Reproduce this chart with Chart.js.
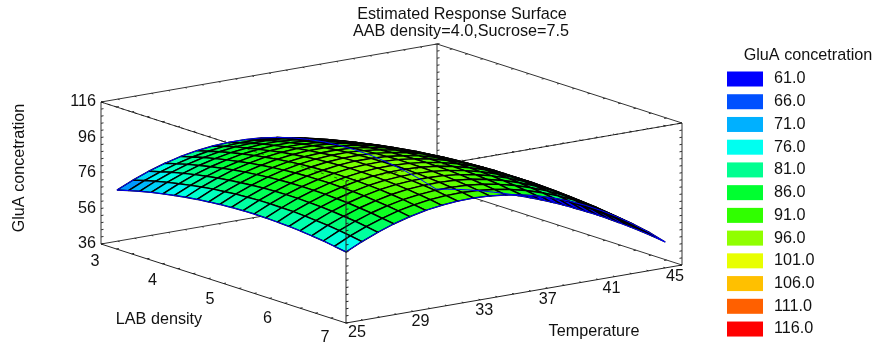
<!DOCTYPE html>
<html><head><meta charset="utf-8">
<style>html,body{margin:0;padding:0;background:#fff}canvas{display:block}</style>
<script src="https://cdn.jsdelivr.net/npm/chart.js@4"></script>
</head><body><canvas id="c" width="874" height="347"></canvas>
<script>
const labValues=[3.26,3.45,3.63,3.82,4.01,4.2,4.38,4.57,4.76,4.94,5.13,5.32,5.5,5.69,5.88,6.07,6.25,6.44,6.63,6.81,7];
const tempValues=[25,25.95,26.9,27.85,28.8,29.75,30.7,31.65,32.6,33.55,34.5,35.45,36.4,37.35,38.3,39.25,40.2,41.15,42.1,43.05,44];
const gluA=[
[69.3,73.3,76.8,79.7,82.0,83.7,84.8,85.3,85.3,84.6,83.4,81.6,79.2,76.2,72.6,68.4,63.7,58.3,52.4,45.9,38.8],
[71.1,75.2,78.6,81.5,83.8,85.5,86.7,87.2,87.1,86.5,85.3,83.5,81.1,78.1,74.6,70.4,65.7,60.3,54.4,47.9,40.8],
[72.7,76.8,80.3,83.2,85.5,87.2,88.4,88.9,88.9,88.3,87.1,85.3,82.9,79.9,76.4,72.2,67.5,62.2,56.3,49.8,42.7],
[74.2,78.3,81.8,84.7,87.0,88.8,89.9,90.5,90.5,89.9,88.7,86.9,84.5,81.6,78.0,73.9,69.2,63.9,58.0,51.5,44.5],
[75.5,79.6,83.2,86.1,88.4,90.2,91.3,91.9,91.9,91.3,90.1,88.4,86.0,83.1,79.5,75.4,70.7,65.4,59.6,53.1,46.1],
[76.7,80.8,84.4,87.3,89.6,91.4,92.6,93.2,93.2,92.6,91.4,89.7,87.3,84.4,80.9,76.8,72.1,66.8,61.0,54.5,47.5],
[77.7,81.9,85.4,88.4,90.7,92.5,93.7,94.3,94.3,93.7,92.6,90.8,88.5,85.6,82.1,78.0,73.3,68.1,62.2,55.8,48.8],
[78.6,82.8,86.3,89.3,91.6,93.4,94.6,95.2,95.3,94.7,93.6,91.9,89.5,86.6,83.1,79.1,74.4,69.2,63.3,56.9,49.9],
[79.3,83.5,87.0,90.0,92.4,94.2,95.4,96.0,96.1,95.6,94.4,92.7,90.4,87.5,84.0,80.0,75.3,70.1,64.3,57.9,50.9],
[79.9,84.1,87.6,90.6,93.0,94.8,96.1,96.7,96.8,96.2,95.1,93.4,91.1,88.2,84.8,80.7,76.1,70.9,65.1,58.7,51.7],
[80.3,84.5,88.1,91.1,93.5,95.3,96.6,97.2,97.3,96.8,95.7,94.0,91.7,88.8,85.4,81.3,76.7,71.5,65.7,59.3,52.4],
[80.6,84.8,88.4,91.4,93.8,95.6,96.9,97.6,97.6,97.1,96.0,94.4,92.1,89.2,85.8,81.8,77.2,72.0,66.2,59.8,52.9],
[80.7,84.9,88.5,91.5,93.9,95.8,97.1,97.7,97.8,97.4,96.3,94.6,92.4,89.5,86.1,82.1,77.5,72.3,66.5,60.2,53.2],
[80.6,84.8,88.5,91.5,94.0,95.8,97.1,97.8,97.9,97.4,96.4,94.7,92.5,89.6,86.2,82.2,77.6,72.5,66.7,60.4,53.4],
[80.4,84.7,88.3,91.3,93.8,95.7,97.0,97.7,97.8,97.3,96.3,94.6,92.4,89.6,86.2,82.2,77.7,72.5,66.7,60.4,53.5],
[80.1,84.3,88.0,91.0,93.5,95.4,96.7,97.4,97.5,97.1,96.1,94.4,92.2,89.4,86.0,82.1,77.5,72.3,66.6,60.3,53.4],
[79.6,83.8,87.5,90.6,93.1,95.0,96.3,97.0,97.1,96.7,95.7,94.1,91.9,89.1,85.7,81.7,77.2,72.1,66.3,60.0,53.1],
[78.9,83.2,86.8,89.9,92.4,94.4,95.7,96.4,96.6,96.2,95.2,93.5,91.4,88.6,85.2,81.3,76.7,71.6,65.9,59.6,52.7],
[78.1,82.4,86.1,89.2,91.7,93.6,94.9,95.7,95.9,95.5,94.5,92.9,90.7,87.9,84.6,80.6,76.1,71.0,65.3,59.0,52.2],
[77.1,81.4,85.1,88.2,90.8,92.7,94.1,94.8,95.0,94.6,93.6,92.0,89.9,87.1,83.8,79.9,75.4,70.3,64.6,58.3,51.5],
[76.0,80.3,84.0,87.2,89.7,91.7,93.0,93.8,94.0,93.6,92.6,91.1,88.9,86.2,82.9,79.0,74.5,69.4,63.7,57.5,50.6]
];
const labTicks=[3,4,5,6,7];
const tempTicks=[25,29,33,37,41,45];
const zTicks=[36,56,76,96,116];
const legendLevels=[61,66,71,76,81,86,91,96,101,106,111,116];
const legendColors=['#0000ff','#0050ff','#00b0ff','#00fff0','#00ff90','#00ff30','#30ff00','#90ff00','#e8ff00','#ffc000','#ff6000','#ff0000'];
const titleLines=['Estimated Response Surface','AAB density=4.0,Sucrose=7.5'];
const zTitle='GluA concetration',labTitle='LAB density',tempTitle='Temperature';

// oblique projection of the box
function project(lab,temp,z){
  const U=(lab-3)/4,V=(temp-25)/20,h=(z-36)*142/80;
  return {x:101+245*U+336*V,y:244+79*U-58*V-h};
}
const gap={x:NaN,y:NaN};
function seg(arr,a,b){arr.push(project(...a),project(...b),gap);}
const ZL=36,ZH=116;
const back=[],front=[],dash=[];
seg(back,[3,25,ZL],[3,45,ZL]);seg(back,[3,45,ZL],[7,45,ZL]);
seg(back,[3,25,ZL],[3,25,ZH]);seg(back,[3,45,ZL],[3,45,ZH]);seg(back,[7,45,ZL],[7,45,ZH]);
seg(back,[3,25,ZH],[3,45,ZH]);seg(back,[3,45,ZH],[7,45,ZH]);
seg(back,[3,25,ZH],[7,25,ZH]);seg(back,[7,25,ZH],[7,45,ZH]);
seg(front,[3,25,ZL],[7,25,ZL]);seg(front,[7,25,ZL],[7,45,ZL]);seg(front,[7,25,ZL],[7,25,ZH]);
seg(dash,[3,25,ZH],[7,25,ZH]);seg(dash,[7,25,ZH],[7,45,ZH]);
// ticks
const dT=0.15,dL=0.03;
for(let l=3;l<=7.001;l+=0.25){[[25,dT],[45,-dT]].forEach(([t,d])=>{[ZL,ZH].forEach(z=>{
  (t===25&&z===ZL?front:back).push(project(l,t,z),project(l,t+d,z),gap);});});}
for(let t=25;t<=45.001;t+=1){[[3,dL],[7,-dL]].forEach(([l,d])=>{[ZL,ZH].forEach(z=>{
  (l===7&&z===ZL?front:back).push(project(l,t,z),project(l+d,t,z),gap);});});}
for(let z=36;z<=116.001;z+=4){
  back.push(project(3,25,z),project(3,25+dT,z),gap);
  back.push(project(3,45,z),project(3,45+dT,z),gap);
  back.push(project(7,45,z),project(7,45-dT,z),gap);
  front.push(project(7,25,z),project(7,25+dT,z),gap);
}
function hex(c){return [1,3,5].map(i=>parseInt(c.substr(i,2),16));}
function colorFor(z){
  if(z<=legendLevels[0])return legendColors[0];
  for(let k=1;k<legendLevels.length;k++){
    if(z<=legendLevels[k]){
      const f=(z-legendLevels[k-1])/5,a=hex(legendColors[k-1]),b=hex(legendColors[k]);
      return 'rgb('+a.map((v,n)=>Math.round(v+(b[n]-v)*f)).join(',')+')';
    }
  }
  return legendColors[legendColors.length-1];
}
const base={showLine:true,pointRadius:0,pointHoverRadius:0,fill:false,tension:0,spanGaps:false,clip:false};
const cells=[];
for(let i=labValues.length-2;i>=0;i--){
  for(let j=0;j<tempValues.length-1;j++){
    const c=[[i,j],[i+1,j],[i+1,j+1],[i,j+1],[i,j]];
    const pts=c.map(([a,b])=>project(labValues[a],tempValues[b],gluA[a][b]));
    const mean=(gluA[i][j]+gluA[i+1][j]+gluA[i+1][j+1]+gluA[i][j+1])/4;
    cells.push({...base,data:pts,fill:'shape',backgroundColor:colorFor(mean-2.5),borderColor:'#000',borderWidth:1.4,
      _d:labValues[i]/4-tempValues[j]/20});
  }
}
cells.sort((a,b)=>b._d-a._d);
const n=labValues.length-1,m=tempValues.length-1;
const outline=[];
tempValues.forEach((t,j)=>outline.push(project(labValues[0],t,gluA[0][j])));
labValues.forEach((l,i)=>outline.push(project(l,tempValues[m],gluA[i][m])));
for(let j=m;j>=0;j--)outline.push(project(labValues[n],tempValues[j],gluA[n][j]));
for(let i=n;i>=0;i--)outline.push(project(labValues[i],tempValues[0],gluA[i][0]));

const datasets=[
  {...base,label:'front edges',data:front,borderColor:'#222',borderWidth:1},
  {...base,label:'surface outline',data:outline,borderColor:'#0000ff',borderWidth:1},
  {...base,label:'edge dots',data:dash,borderColor:'rgba(0,0,0,0.6)',borderWidth:1,borderDash:[3,4]},
  ...cells,
  {...base,label:'box',data:back,borderColor:'#333',borderWidth:1}
];
const FONT='"Liberation Sans",Arial,sans-serif';
const textPlugin={id:'texts',afterDraw(chart){
  const c=chart.ctx;c.save();c.fillStyle='#111';c.textBaseline='middle';
  c.font='16.2px '+FONT;
  c.textAlign='center';
  c.fillText(titleLines[0],462,15);
  c.fillText(titleLines[1],461,32);
  c.textAlign='right';
  zTicks.forEach(z=>{const p=project(3,25,z);c.fillText(String(z),96,p.y);});
  c.textAlign='center';
  labTicks.forEach(l=>{const p=project(l,25,36),u=(l-3)/4;c.fillText(String(l),p.x-6-15*u,p.y+18-3*u);});
  tempTicks.forEach(t=>{const p=project(7,t,36),v=(t-25)/20;c.fillText(String(t),p.x+11-18*v,p.y+10+2*v);});
  c.fillText(labTitle,159,320);
  c.fillText(tempTitle,594,332);
  c.save();c.translate(20,168);c.rotate(-Math.PI/2);c.fillText(zTitle,0,0);c.restore();
  c.fillText(zTitle,808,56);
  c.textAlign='left';
  legendLevels.forEach((lv,k)=>{
    const y=79+k*22.73;
    c.fillStyle=legendColors[k];c.fillRect(727,y-7.5,36,15);
    c.fillStyle='#111';c.fillText(lv.toFixed(1),774,y);
  });
  c.restore();
}};
new Chart(document.getElementById('c'),{
  type:'scatter',
  data:{datasets},
  options:{responsive:false,animation:false,events:[],devicePixelRatio:1,
    layout:{padding:0},
    plugins:{legend:{display:false},tooltip:{enabled:false},title:{display:false}},
    scales:{
      x:{type:'linear',min:0,max:874,display:false},
      y:{type:'linear',min:0,max:347,reverse:true,display:false}
    }
  },
  plugins:[textPlugin]
});
</script></body></html>
